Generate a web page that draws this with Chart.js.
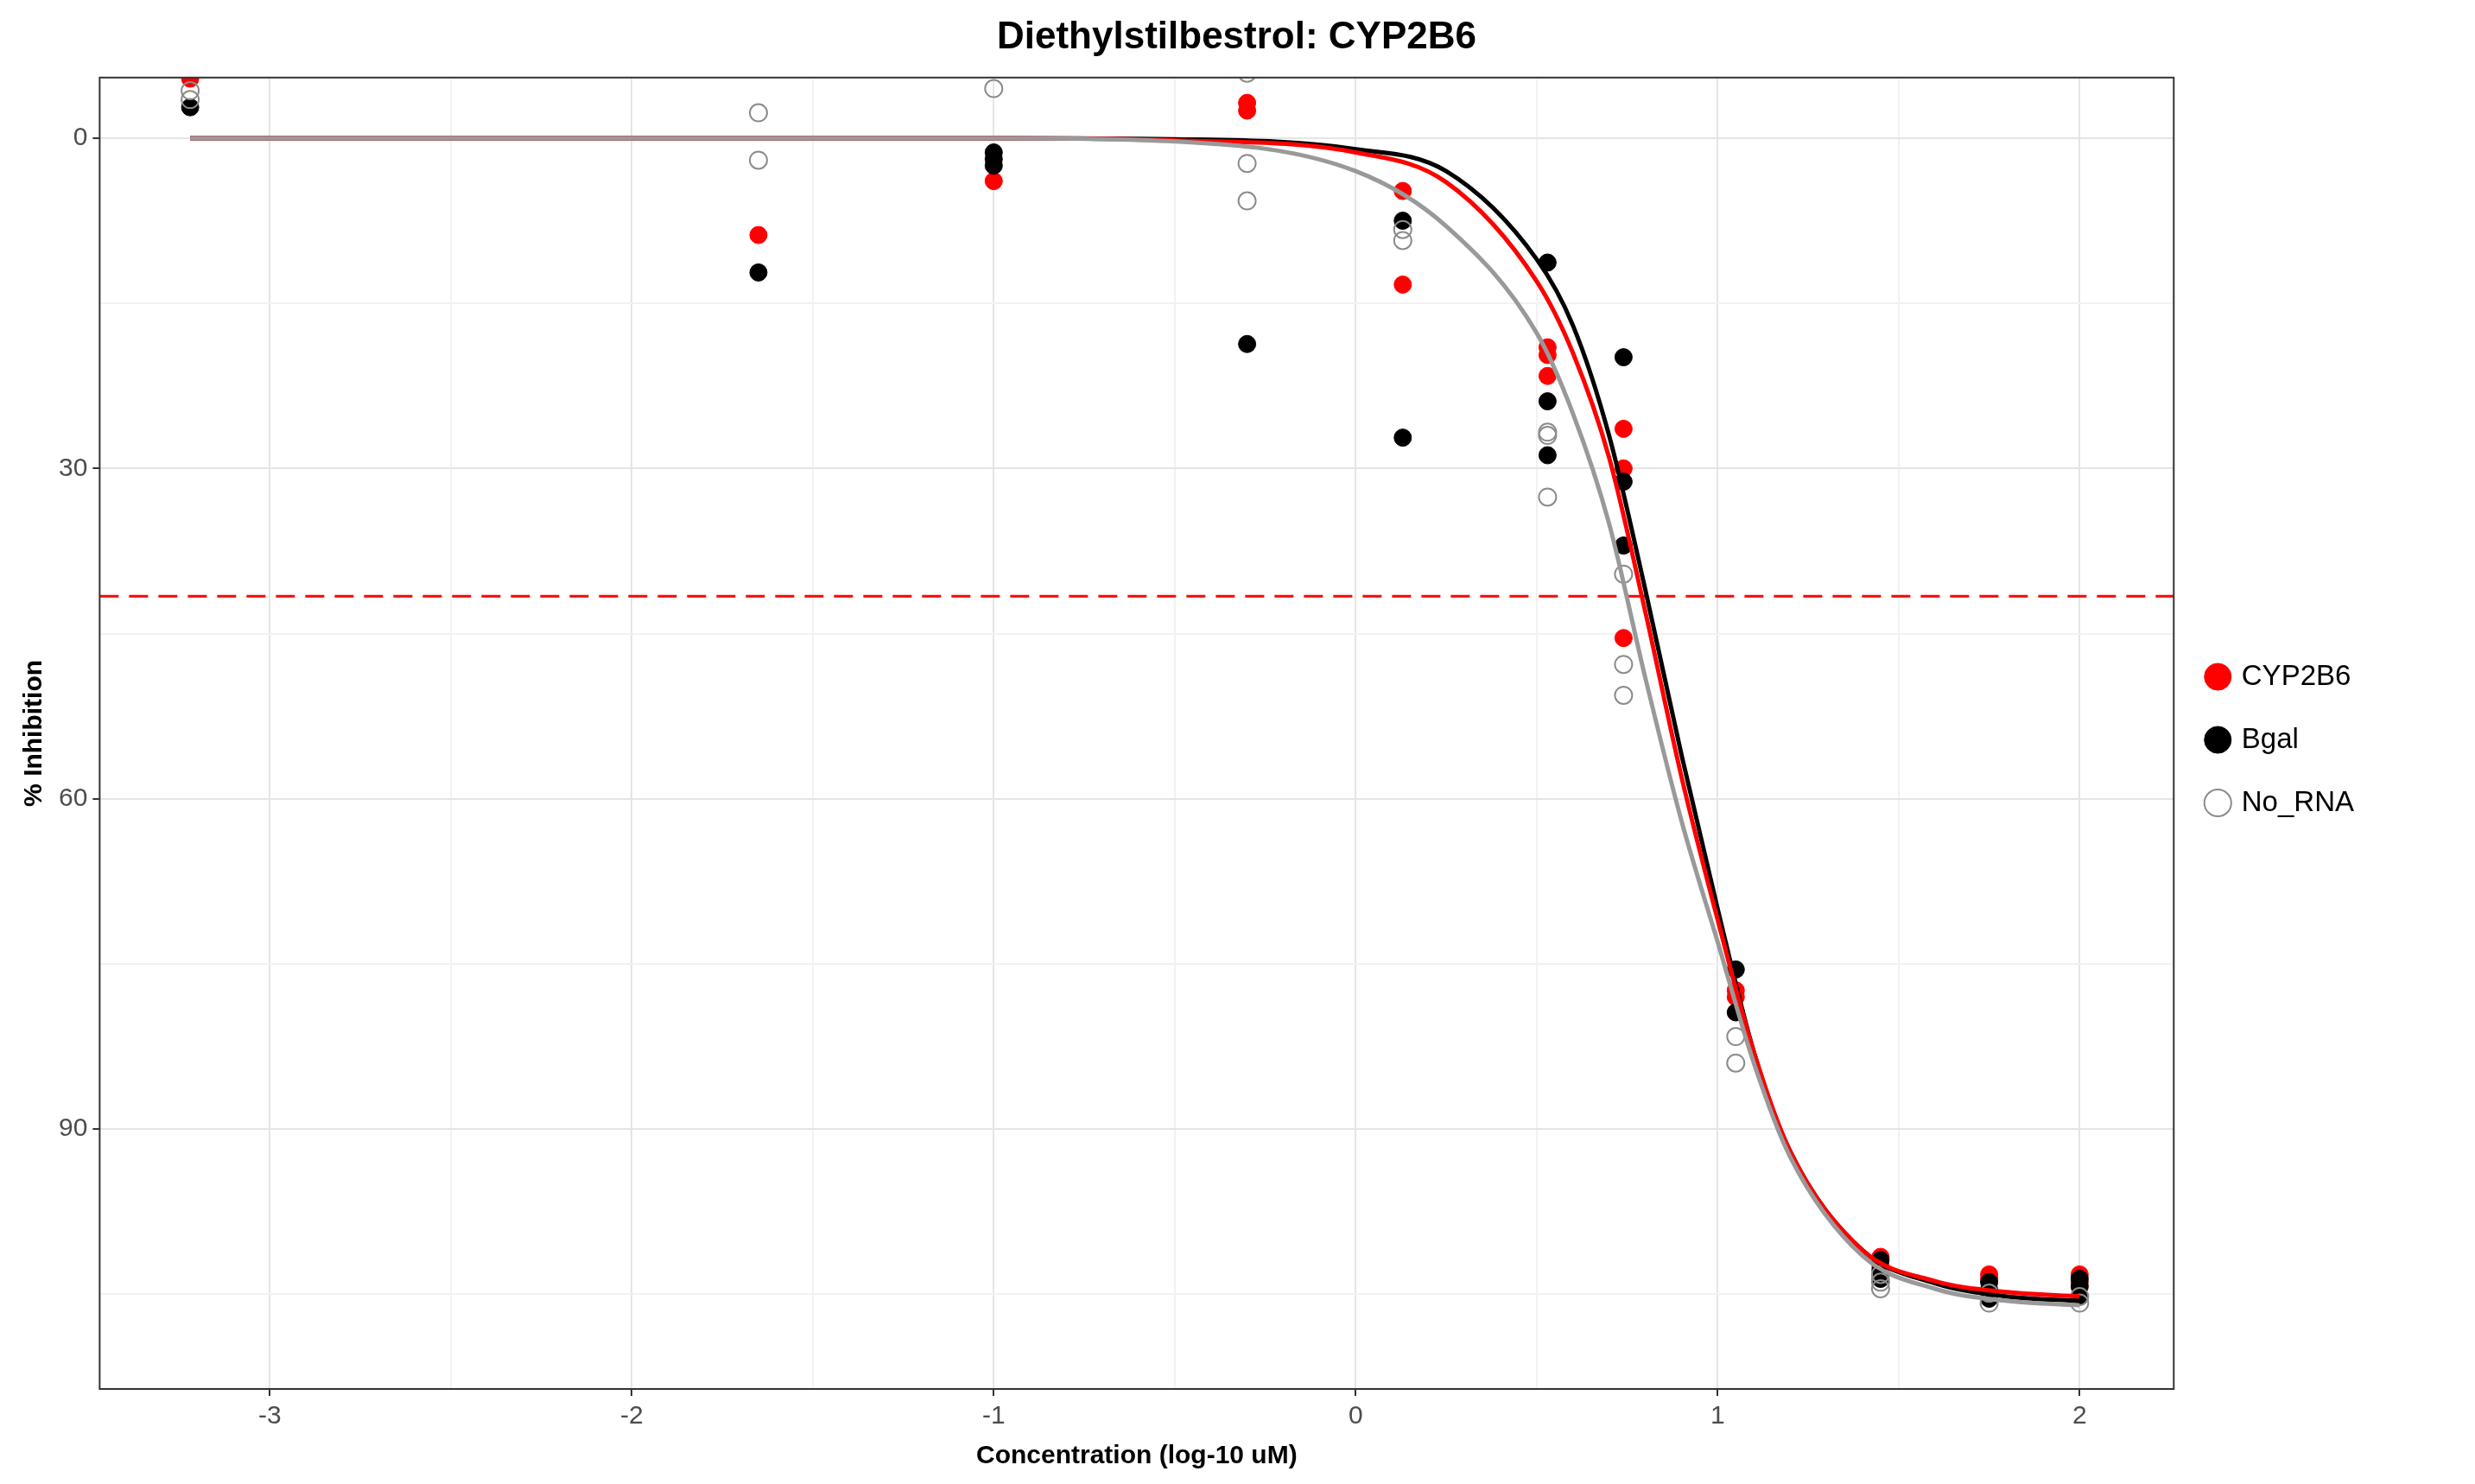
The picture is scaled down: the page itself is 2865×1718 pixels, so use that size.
<!DOCTYPE html>
<html>
<head>
<meta charset="utf-8">
<script src="https://cdn.jsdelivr.net/npm/chart.js@4"></script>
<style>
  html, body { margin: 0; padding: 0; background: #fff; }
  #wrap { width: 2865px; height: 1718px; position: relative; }
</style>
</head>
<body>
<div id="wrap"><canvas id="chart"></canvas></div>
<script>
// measured points: [log10 conc, % inhibition]
const cyp2b6Points = [
  [-3.22, -5.4], [-1.65, 8.8], [-1.0, 3.9], [-0.3, -3.2], [-0.3, -2.5],
  [0.13, 4.8], [0.13, 13.3], [0.53, 19.0], [0.53, 19.7], [0.53, 21.6],
  [0.74, 26.4], [0.74, 30.0], [0.74, 45.4], [1.05, 77.4], [1.05, 78.0],
  [1.45, 101.6], [1.45, 102.5], [1.75, 103.2], [1.75, 103.6], [2.0, 103.2], [2.0, 103.9]
];
const bgalPoints = [
  [-3.22, -2.8], [-1.65, 12.2], [-1.0, 1.3], [-1.0, 1.9], [-1.0, 2.5], [-0.3, 18.7],
  [0.13, 7.5], [0.13, 27.2], [0.53, 11.3], [0.53, 23.9], [0.53, 28.8],
  [0.74, 19.9], [0.74, 31.2], [0.74, 37.0], [1.05, 75.5], [1.05, 79.4],
  [1.45, 101.9], [1.45, 102.8], [1.45, 103.6], [1.75, 103.9], [1.75, 104.6], [1.75, 105.4],
  [2.0, 103.6], [2.0, 104.3], [2.0, 105.2]
];
const noRnaPoints = [
  [-3.22, -4.3], [-3.22, -3.5], [-1.65, -2.3], [-1.65, 2.0], [-1.0, -4.5],
  [-0.3, -5.9], [-0.3, 2.3], [-0.3, 5.7], [0.13, 8.3], [0.13, 9.3],
  [0.53, 26.7], [0.53, 27.0], [0.53, 32.6], [0.74, 39.6], [0.74, 47.8], [0.74, 50.6],
  [1.05, 81.6], [1.05, 84.0], [1.45, 103.2], [1.45, 103.9], [1.45, 104.5],
  [1.75, 104.9], [1.75, 105.8], [2.0, 105.2], [2.0, 105.8]
];

// fitted curves
const curveX    = [-3.22, -1.0, -0.5, 0.0, 0.25, 0.5, 0.6, 0.7, 0.8, 0.9, 1.0, 1.1, 1.2, 1.4, 1.6, 1.8, 2.0];
const cyp2b6Fit = [0, 0, 0.2, 1.3, 4, 13, 19.5, 29, 43, 58, 71, 83, 92, 101, 103.8, 104.8, 105.2];
const bgalFit   = [0, 0, 0.1, 1.0, 3, 11, 17, 27, 41, 56, 70, 83, 92, 101, 104, 105.2, 105.6];
const noRnaFit  = [0, 0, 0.3, 3.0, 8, 17.7, 25, 35, 49, 62, 73, 84, 92.5, 101.5, 104.5, 105.6, 106];

const cutoff = 41.6;
const xMin = -3.47, xMax = 2.26, yMin = -5.5, yMax = 113.6;

const toXY = arr => arr.map(p => ({ x: p[0], y: p[1] }));
const fitXY = ys => curveX.map((x, i) => ({ x: x, y: ys[i] }));

const frame = {
  id: 'frame',
  afterDraw(chart) {
    const a = chart.chartArea, c = chart.ctx;
    c.save();
    c.strokeStyle = '#333';
    c.lineWidth = 2;
    c.strokeRect(a.left, a.top, a.right - a.left, a.bottom - a.top);
    c.restore();
  }
};

new Chart(document.getElementById('chart'), {
  type: 'scatter',
  data: {
    datasets: [
      { label: 'cutoff', type: 'line', data: [{ x: xMin, y: cutoff }, { x: xMax, y: cutoff }],
        borderColor: '#ff0000', borderWidth: 3, borderDash: [22, 12], pointRadius: 0, order: 5 },
      { label: 'CYP2B6', data: toXY(cyp2b6Points), backgroundColor: '#ff0000', borderColor: '#ff0000',
        pointRadius: 10, borderWidth: 1, order: 4 },
      { label: 'Bgal', data: toXY(bgalPoints), backgroundColor: '#000000', borderColor: '#000000',
        pointRadius: 10, borderWidth: 1, order: 3 },
      { label: 'No_RNA', data: toXY(noRnaPoints), backgroundColor: 'rgba(255,255,255,0)', borderColor: '#8c8c8c',
        pointRadius: 10, borderWidth: 2, order: 2 },
      { label: 'fit1', type: 'line', data: fitXY(cyp2b6Fit), borderColor: '#ff0000', borderWidth: 5,
        pointRadius: 0, cubicInterpolationMode: 'monotone', order: 1 },
      { label: 'fit2', type: 'line', data: fitXY(bgalFit), borderColor: '#000000', borderWidth: 5,
        pointRadius: 0, cubicInterpolationMode: 'monotone', order: 1 },
      { label: 'fit3', type: 'line', data: fitXY(noRnaFit), borderColor: '#999999', borderWidth: 5,
        pointRadius: 0, cubicInterpolationMode: 'monotone', order: 0 }
    ]
  },
  options: {
    responsive: true,
    maintainAspectRatio: false,
    animation: false,
    layout: { padding: { left: 18, right: 20, top: 5, bottom: 10 } },
    plugins: {
      title: { display: true, text: 'Diethylstilbestrol: CYP2B6', color: '#000',
        font: { family: 'Liberation Sans', size: 44, weight: 'bold' }, padding: { top: 12, bottom: 20 } },
      legend: {
        position: 'right',
        labels: {
          filter: item => ['CYP2B6', 'Bgal', 'No_RNA'].includes(item.text),
          sort: (a, b) => a.datasetIndex - b.datasetIndex,
          usePointStyle: true, pointStyle: 'circle', boxWidth: 22, boxHeight: 22,
          padding: 40, color: '#000',
          font: { family: 'Liberation Sans', size: 33 }
        },
        onClick: null
      },
      tooltip: { enabled: false }
    },
    scales: {
      x: {
        type: 'linear', min: xMin, max: xMax,
        afterBuildTicks: s => { s.ticks = [-3, -2.5, -2, -1.5, -1, -0.5, 0, 0.5, 1, 1.5, 2].map(v => ({ value: v })); },
        ticks: { callback: v => Number.isInteger(v) ? String(v) : '', color: '#4d4d4d',
          font: { family: 'Liberation Sans', size: 30 }, maxRotation: 0, autoSkip: false, padding: 6 },
        grid: { color: ctx => Number.isInteger(ctx.tick.value) ? '#e5e5e5' : '#f2f2f2', lineWidth: 2,
          tickColor: ctx => Number.isInteger(ctx.tick.value) ? '#333' : 'rgba(0,0,0,0)', tickLength: 8 },
        border: { display: false },
        title: { display: true, text: 'Concentration (log-10 uM)', color: '#000',
          font: { family: 'Liberation Sans', size: 30, weight: 'bold' } }
      },
      y: {
        type: 'linear', reverse: true, min: yMin, max: yMax,
        afterBuildTicks: s => { s.ticks = [0, 15, 30, 45, 60, 75, 90, 105].map(v => ({ value: v })); },
        ticks: { callback: v => v % 30 === 0 ? String(v) : '', color: '#4d4d4d',
          font: { family: 'Liberation Sans', size: 30 }, autoSkip: false, padding: 6 },
        grid: { color: ctx => ctx.tick.value % 30 === 0 ? '#e5e5e5' : '#f2f2f2', lineWidth: 2,
          tickColor: ctx => ctx.tick.value % 30 === 0 ? '#333' : 'rgba(0,0,0,0)', tickLength: 8 },
        border: { display: false },
        title: { display: true, text: '% Inhibition', color: '#000',
          font: { family: 'Liberation Sans', size: 30, weight: 'bold' } }
      }
    }
  },
  plugins: [frame, {
    id: 'legendWidth',
    beforeInit(chart) {
      const fit = chart.legend.fit;
      chart.legend.fit = function () { fit.call(this); this.width += 110; };
    }
  }]
});
</script>
</body>
</html>
